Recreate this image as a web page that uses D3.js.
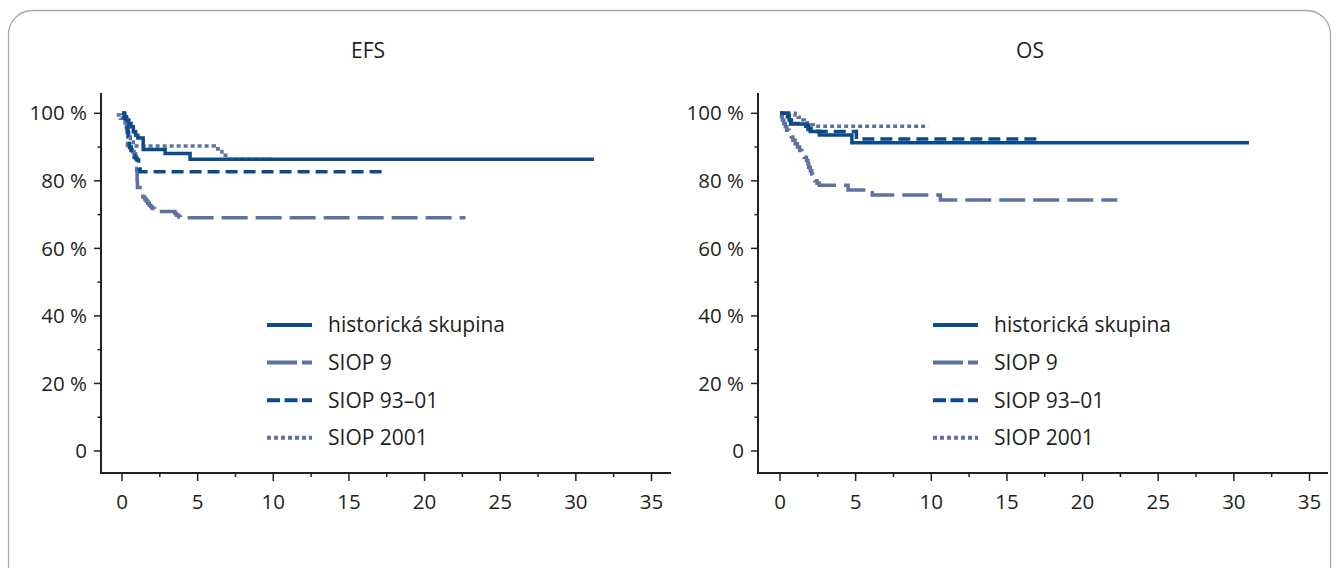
<!DOCTYPE html>
<html>
<head>
<meta charset="utf-8">
<script src="https://cdn.jsdelivr.net/npm/d3@7"></script>
<style>
  body { margin: 0; background: #fff; }
  svg text { font-family: "Open Sans", "Noto Sans", sans-serif; fill: #231f20; }
</style>
</head>
<body>
<svg id="chart" width="1339" height="568"></svg>
<script>
// survival curves, [years, percent] – each point is where the step starts
const efsHist = [[0,100],[0.15,99],[0.3,98],[0.45,97],[0.6,96],[0.75,94.5],[0.9,93.5],[1.05,92.7],[1.4,89.3],[2.85,88.1],[4.5,86.4],[31.2,86.4]];
const efsSiop9 = [[0,100],[0.2,98],[0.3,95.5],[0.33,93],[0.36,90.5],[0.5,89.8],[0.6,89.2],[0.7,88.6],[0.8,88],[0.9,87.3],[0.95,86.5],[0.97,83],[1.0,80],[1.02,78],[1.35,77],[1.38,75.2],[1.5,74.6],[1.6,74],[1.7,73.4],[1.8,72.8],[1.9,72.3],[2.0,71.8],[2.15,71.3],[2.3,70.9],[3.5,70.3],[3.6,69.8],[3.75,69.3],[3.85,69.1],[22.7,69.1]];
const efsSiop93 = [[0,100],[0.15,98.5],[0.3,96],[0.4,93],[0.5,90],[0.6,88],[0.7,87.5],[0.8,87],[0.9,86.6],[1.0,86.2],[1.1,85],[1.12,83.5],[1.2,82.7],[17.5,82.7]];
const efsSiop2001 = [[-0.35,99.5],[-0.1,98.5],[0.1,97.5],[0.2,96.5],[0.35,95],[0.45,93],[0.55,91.5],[0.75,90.3],[6.1,89.5],[6.35,88.7],[6.6,87.6],[7.0,86.4],[9.9,86.4]];

const osHist = [[0,100],[0.5,99.3],[0.6,98],[0.7,96.8],[1.7,96.2],[1.85,95.2],[2.0,94.6],[2.6,93.6],[4.75,91.3],[31.0,91.3]];
const osSiop9 = [[0,100],[0.1,99],[0.15,98],[0.25,97],[0.35,96],[0.45,95],[0.6,94],[0.75,93],[0.85,92],[1.0,91],[1.15,90],[1.3,89],[1.45,88],[1.6,87],[1.75,86],[1.85,85],[1.9,84],[2.0,83],[2.1,82],[2.15,81],[2.3,80],[2.45,79.3],[2.6,78.7],[4.5,77.3],[6.1,75.8],[10.6,74.3],[22.3,74.3]];
const osSiop93 = [[0,100],[0.5,99],[0.6,98],[0.75,97],[1.7,96.5],[1.9,95.5],[2.5,94.6],[5.05,92.4],[17.0,92.4]];
const osSiop2001 = [[0,100],[1.0,99.5],[1.2,98.8],[1.4,98],[1.6,97.2],[1.8,96.6],[2.2,96.2],[9.8,96.2]];

const seriesNames = ['historická skupina', 'SIOP 9', 'SIOP 93–01', 'SIOP 2001'];
const panelTitles = ['EFS', 'OS'];
const xTicks = [0, 5, 10, 15, 20, 25, 30, 35];
const yTicks = [0, 20, 40, 60, 80, 100];

const dark = '#0b4b8b';
const slate = '#5d72a0';
const styles = [
  { color: dark, dash: null },
  { color: slate, dash: '26,8' },
  { color: dark, dash: '12,6' },
  { color: slate, dash: '4,3' }
];

const panels = [
  { title: panelTitles[0], data: [efsHist, efsSiop9, efsSiop93, efsSiop2001], axisX: 101, x0: 122, titleX: 368, legendX: 267 },
  { title: panelTitles[1], data: [osHist, osSiop9, osSiop93, osSiop2001], axisX: 758, x0: 780, titleX: 1030, legendX: 933 }
];

const svg = d3.select('#chart');

// rounded frame
svg.append('rect')
  .attr('x', 8.5).attr('y', 10.5)
  .attr('width', 1322).attr('height', 620)
  .attr('rx', 24)
  .attr('fill', 'none')
  .attr('stroke', '#a8a8a8')
  .attr('stroke-width', 1.3);

const y = d3.scaleLinear().domain([0, 100]).range([451, 113.3]);
const axisY = 473;

panels.forEach(function(p) {
  const x = d3.scaleLinear().domain([0, 35]).range([p.x0, p.x0 + 529.5]);
  const g = svg.append('g');

  g.append('text')
    .attr('x', p.titleX).attr('y', 58)
    .attr('text-anchor', 'middle')
    .style('font-size', '21px')
    .text(p.title);

  // y axis
  g.append('line')
    .attr('x1', p.axisX).attr('x2', p.axisX)
    .attr('y1', 93).attr('y2', axisY + 1)
    .attr('stroke', '#231f20').attr('stroke-width', 2);
  d3.range(0, 101, 10).forEach(function(v) {
    const major = v % 20 === 0;
    g.append('line')
      .attr('x1', p.axisX - (major ? 7 : 3.5)).attr('x2', p.axisX)
      .attr('y1', y(v)).attr('y2', y(v))
      .attr('stroke', '#231f20').attr('stroke-width', 1.5);
  });
  yTicks.forEach(function(v) {
    g.append('text')
      .attr('x', p.axisX - 14).attr('y', y(v))
      .attr('dy', '0.35em')
      .attr('text-anchor', 'end')
      .style('font-size', '20.5px')
      .text(v === 0 ? '0' : v + ' %');
  });

  // x axis
  g.append('line')
    .attr('x1', p.axisX - 1).attr('x2', p.axisX + 570)
    .attr('y1', axisY).attr('y2', axisY)
    .attr('stroke', '#231f20').attr('stroke-width', 2);
  d3.range(0, 35.1, 2.5).forEach(function(v) {
    const major = v % 5 === 0;
    g.append('line')
      .attr('x1', x(v)).attr('x2', x(v))
      .attr('y1', axisY).attr('y2', axisY + (major ? 8 : 4))
      .attr('stroke', '#231f20').attr('stroke-width', 1.5);
  });
  xTicks.forEach(function(v) {
    g.append('text')
      .attr('x', x(v)).attr('y', 509)
      .attr('text-anchor', 'middle')
      .style('font-size', '20.5px')
      .text(v);
  });

  const line = d3.line()
    .x(d => x(d[0]))
    .y(d => y(d[1]))
    .curve(d3.curveStepAfter);

  // draw order: dotted and dashed below, solid on top
  [3, 1, 2, 0].forEach(function(i) {
    g.append('path')
      .datum(p.data[i])
      .attr('d', line)
      .attr('fill', 'none')
      .attr('stroke', styles[i].color)
      .attr('stroke-width', 3.5)
      .attr('stroke-dasharray', styles[i].dash);
  });

  // legend
  seriesNames.forEach(function(name, i) {
    const ly = 325 + i * 37.6;
    g.append('line')
      .attr('x1', p.legendX).attr('x2', p.legendX + 45)
      .attr('y1', ly).attr('y2', ly)
      .attr('stroke', styles[i].color)
      .attr('stroke-width', 4)
      .attr('stroke-dasharray', i === 1 ? '30,5' : i === 2 ? '13,4.5' : i === 3 ? '4,3' : null);
    g.append('text')
      .attr('x', p.legendX + 61).attr('y', ly)
      .attr('dy', '0.35em')
      .style('font-size', '21px')
      .text(name);
  });
});
</script>
</body>
</html>
